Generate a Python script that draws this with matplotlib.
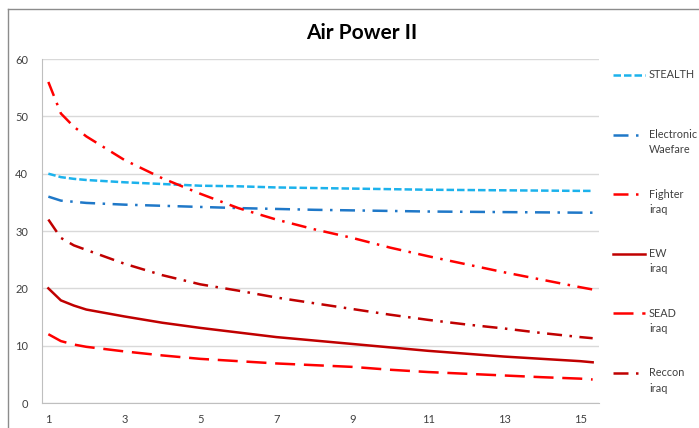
import matplotlib.pyplot as plt
from matplotlib.lines import Line2D

plt.rcParams['font.family'] = ['Lato', 'DejaVu Sans']

x = [1, 1.33, 1.67, 2, 3, 4, 5, 6, 7, 8, 9, 10, 11, 12, 13, 14, 15, 15.33]

stealth = [40.0, 39.4, 39.1, 38.9, 38.5, 38.2, 37.9, 37.8, 37.6, 37.5, 37.4, 37.3, 37.2, 37.15, 37.1, 37.05, 37.0, 37.0]
electronic = [36.0, 35.3, 35.1, 34.9, 34.6, 34.4, 34.2, 34.0, 33.85, 33.7, 33.6, 33.5, 33.4, 33.35, 33.3, 33.25, 33.2, 33.2]
fighter = [56.0, 50.5, 48.2, 46.5, 42.4, 39.2, 36.5, 34.0, 32.0, 30.3, 28.8, 27.1, 25.6, 24.2, 22.8, 21.5, 20.2, 19.8]
ew = [20.0, 17.9, 17.0, 16.3, 15.1, 14.0, 13.1, 12.3, 11.5, 10.9, 10.3, 9.7, 9.1, 8.6, 8.1, 7.7, 7.3, 7.1]
sead = [12.0, 10.8, 10.2, 9.8, 9.0, 8.3, 7.7, 7.3, 6.9, 6.6, 6.3, 5.8, 5.4, 5.1, 4.8, 4.5, 4.25, 4.1]
reccon = [32.0, 28.8, 27.5, 26.7, 24.3, 22.3, 20.7, 19.6, 18.4, 17.4, 16.4, 15.4, 14.5, 13.7, 13.0, 12.2, 11.5, 11.3]

labels = ['STEALTH', 'Electronic\nWaefare', 'Fighter\niraq', 'EW\niraq', 'SEAD\niraq', 'Reccon\niraq']
series = [stealth, electronic, fighter, ew, sead, reccon]
colors = ['#1CB2EC', '#1F78C8', '#FF0000', '#C00000', '#FF0000', '#C00000']
dashes = [(3, 1.2), (6, 3, 1, 3), (6, 3, 1, 3), None, (8, 3.5), (6, 3, 1, 3)]

fig = plt.figure(figsize=(6.99, 4.28), dpi=100)
ax = fig.add_axes([0.0601, 0.0584, 0.797, 0.8037])

for vals, c, d in zip(series, colors, dashes):
    ln, = ax.plot(x, vals, color=c, lw=1.8)
    if d is not None:
        ln.set_dashes(d)

ax.set_xlim(0.833, 15.5)
ax.set_ylim(0, 60)
ax.set_xticks(range(1, 16, 2))
ax.set_yticks(range(0, 61, 10))
ax.yaxis.grid(True, color='#D9D9D9', lw=1)
ax.set_axisbelow(True)
for s in ['top', 'right']:
    ax.spines[s].set_visible(False)
for s in ['left', 'bottom']:
    ax.spines[s].set_color('#BFBFBF')
ax.tick_params(length=0, labelsize=8, labelcolor='#404040')
ax.tick_params(axis='y', pad=10)
ax.tick_params(axis='x', pad=8)

fig.text(0.517, 0.922, 'Air Power II', ha='center', va='center',
         fontsize=15, fontweight='bold', color='#000000')

# legend on the right, handle aligned with first text line
W, H = 699, 428
for i, (lab, c, d) in enumerate(zip(labels, colors, dashes)):
    yy = 75 + i * 59.6
    hl = Line2D([613 / W, 645 / W], [1 - yy / H, 1 - yy / H], color=c, lw=1.8,
                transform=fig.transFigure)
    if d is not None:
        hl.set_dashes(d)
    fig.add_artist(hl)
    fig.text(649 / W, 1 - (yy - 5.5) / H, lab, ha='left', va='top',
             fontsize=7.8, color='#404040', linespacing=1.45)

# outer chart frame
fig.add_artist(Line2D([8 / W, 8 / W], [0, 1 - 9 / H], color='#8C8C8C', lw=1,
                      transform=fig.transFigure))
fig.add_artist(Line2D([8 / W, 1], [1 - 9 / H, 1 - 9 / H], color='#8C8C8C', lw=1,
                      transform=fig.transFigure))

fig.savefig('out.png', dpi=100)
